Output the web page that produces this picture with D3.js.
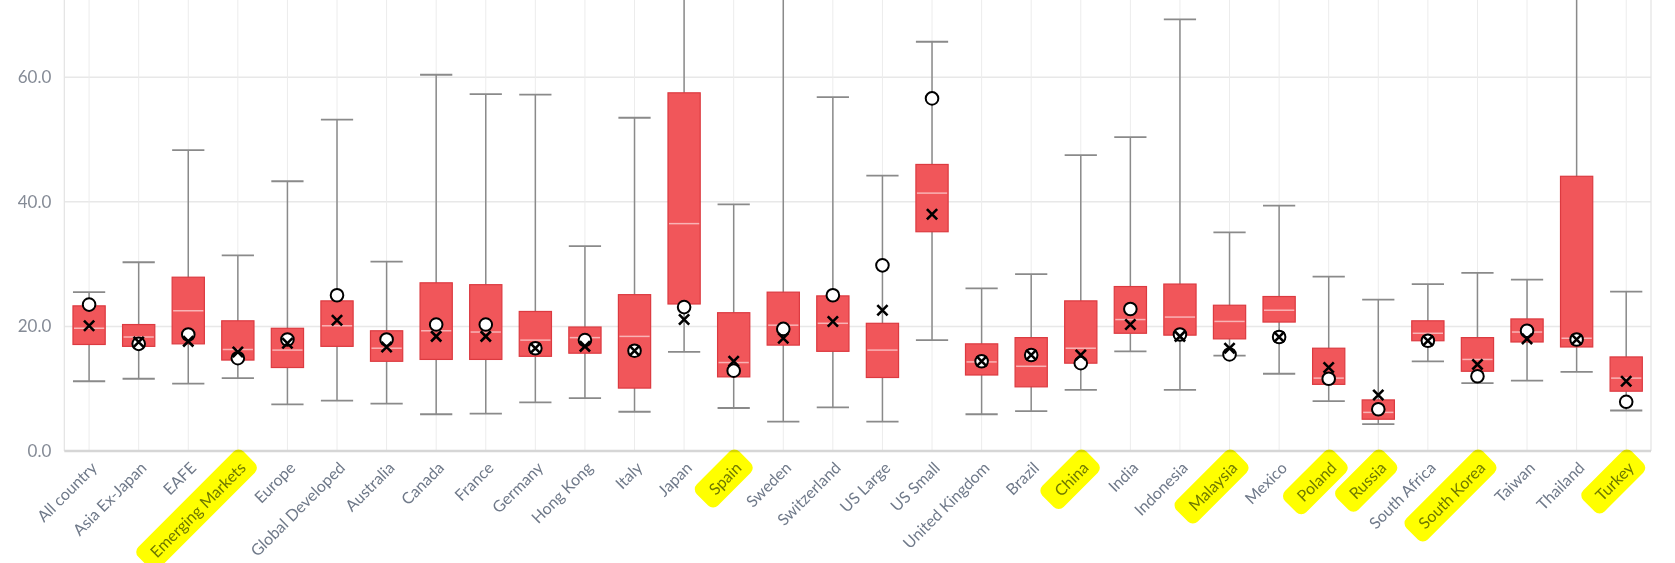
<!DOCTYPE html>
<html>
<head>
<meta charset="utf-8">
<script src="https://cdn.jsdelivr.net/npm/d3@7"></script>
<style>
  body { margin: 0; background: #fff; }
  text { font-family: Lato, "Open Sans", sans-serif; }
</style>
</head>
<body>
<div id="chart"></div>
<script>
// categories and box stats
var categories = ["All country", "Asia Ex-Japan", "EAFE", "Emerging Markets", "Europe", "Global Developed",
  "Australia", "Canada", "France", "Germany", "Hong Kong", "Italy", "Japan", "Spain", "Sweden", "Switzerland",
  "US Large", "US Small", "United Kingdom", "Brazil", "China", "India", "Indonesia", "Malaysia", "Mexico",
  "Poland", "Russia", "South Africa", "South Korea", "Taiwan", "Thailand", "Turkey"];
var highlighted = ["Emerging Markets", "Spain", "China", "Malaysia", "Poland", "Russia", "South Korea", "Turkey"];

var whiskerLow = [11.2, 11.6, 10.8, 11.7, 7.5, 8.1, 7.6, 5.9, 6.0, 7.8, 8.5, 6.3, 15.9, 6.9, 4.7, 7.0,
  4.7, 17.8, 5.9, 6.4, 9.8, 16.0, 9.8, 15.3, 12.4, 8.0, 4.3, 14.4, 10.9, 11.3, 12.7, 6.5];
var q1 = [17.1, 16.8, 17.2, 14.6, 13.4, 16.8, 14.4, 14.7, 14.7, 15.2, 15.7, 10.1, 23.6, 11.9, 17.0, 16.0,
  11.8, 35.2, 12.2, 10.3, 14.1, 18.9, 18.6, 18.0, 20.7, 10.7, 5.1, 17.7, 12.8, 17.5, 16.7, 9.6];
var median = [19.7, 18.3, 22.5, 16.3, 16.2, 20.1, 16.5, 19.3, 19.1, 17.8, 18.2, 18.4, 36.5, 14.2, 20.2, 20.5,
  16.2, 41.4, 14.3, 13.6, 16.5, 21.1, 21.5, 20.8, 22.6, 11.7, 6.2, 18.9, 14.7, 19.1, 18.1, 11.7];
var q3 = [23.3, 20.3, 27.9, 20.9, 19.7, 24.1, 19.3, 27.0, 26.7, 22.4, 19.9, 25.1, 57.5, 22.2, 25.5, 24.9,
  20.5, 46.0, 17.2, 18.2, 24.1, 26.4, 26.8, 23.4, 24.8, 16.5, 8.2, 20.9, 18.2, 21.2, 44.1, 15.1];
var whiskerHigh = [25.5, 30.3, 48.3, 31.4, 43.3, 53.2, 30.4, 60.4, 57.3, 57.2, 32.9, 53.5, 85.0, 39.6, 90.0, 56.8,
  44.2, 65.7, 26.1, 28.4, 47.5, 50.4, 69.3, 35.1, 39.4, 28.0, 24.3, 26.8, 28.6, 27.5, 80.0, 25.6];
var current = [23.5, 17.2, 18.7, 14.9, 17.9, 25.0, 17.9, 20.3, 20.3, 16.5, 17.8, 16.1, 23.1, 12.9, 19.6, 25.0,
  29.8, 56.6, 14.4, 15.4, 14.1, 22.8, 18.7, 15.5, 18.3, 11.6, 6.7, 17.7, 12.0, 19.3, 17.9, 7.9];
var mean = [20.1, 17.5, 17.6, 15.9, 17.3, 21.0, 16.7, 18.4, 18.4, 16.5, 16.8, 16.1, 21.1, 14.4, 18.1, 20.8,
  22.6, 38.0, 14.4, 15.4, 15.4, 20.3, 18.4, 16.5, 18.3, 13.4, 9.0, 17.7, 13.9, 18.0, 17.9, 11.2];
var yTicks = [0, 20, 40, 60];

var svgWidth = 1675, svgHeight = 563;
var margin = {top: 0, left: 64.3, right: 24, bottom: 112};
var chartWidth = svgWidth - margin.left - margin.right;
var chartHeight = svgHeight - margin.top - margin.bottom;

var data = categories.map(function(c, i) {
  return {name: c, lo: whiskerLow[i], q1: q1[i], med: median[i], q3: q3[i], hi: whiskerHigh[i],
    cur: current[i], mean: mean[i]};
});

var svg = d3.select("#chart").append("svg")
  .attr("width", svgWidth)
  .attr("height", svgHeight);

svg.append("defs").append("clipPath").attr("id", "plotClip")
  .append("rect").attr("width", chartWidth).attr("height", chartHeight);

var chartGroup = svg.append("g")
  .attr("transform", `translate(${margin.left}, ${margin.top})`);

var xScale = d3.scaleBand().domain(categories).range([0, chartWidth]).padding(0);
var yScale = d3.scaleLinear().domain([0, 72.4]).range([chartHeight, 0]);
var cx = d => xScale(d) + xScale.bandwidth() / 2;
var boxW = xScale.bandwidth() * 0.65;

// grid
chartGroup.append("g").selectAll("line").data(yTicks.slice(1)).enter().append("line")
  .attr("x1", 0).attr("x2", chartWidth)
  .attr("y1", d => yScale(d)).attr("y2", d => yScale(d))
  .attr("stroke", "#e8e8e8").attr("stroke-width", 1.5);

chartGroup.append("g").selectAll("line").data(categories).enter().append("line")
  .attr("x1", d => cx(d)).attr("x2", d => cx(d))
  .attr("y1", 0).attr("y2", chartHeight)
  .attr("stroke", "#ececec").attr("stroke-width", 1);

[0, chartWidth].forEach(function(x) {
  chartGroup.append("line").attr("x1", x).attr("x2", x).attr("y1", 0).attr("y2", chartHeight)
    .attr("stroke", "#e3e3e3").attr("stroke-width", 1.2);
});

// y axis labels
var yAxis = d3.axisLeft(yScale).tickValues(yTicks).tickFormat(d3.format(".1f")).tickSize(0).tickPadding(13);
chartGroup.append("g").call(yAxis)
  .call(g => g.select(".domain").remove())
  .selectAll("text")
  .attr("fill", "#858b96")
  .style("font-size", "17px");

// boxes
var plot = chartGroup.append("g").attr("clip-path", "url(#plotClip)");
var boxes = plot.selectAll("g.box").data(data).enter().append("g").attr("class", "box");

boxes.append("line")
  .attr("x1", d => cx(d.name)).attr("x2", d => cx(d.name))
  .attr("y1", d => yScale(d.hi)).attr("y2", d => yScale(d.lo))
  .attr("stroke", "#8a8a8a").attr("stroke-width", 1.5);

["hi", "lo"].forEach(function(k) {
  boxes.append("line")
    .attr("x1", d => cx(d.name) - boxW / 2).attr("x2", d => cx(d.name) + boxW / 2)
    .attr("y1", d => yScale(d[k])).attr("y2", d => yScale(d[k]))
    .attr("stroke", "#8a8a8a").attr("stroke-width", 1.8);
});

boxes.append("rect")
  .attr("x", d => cx(d.name) - boxW / 2)
  .attr("width", boxW)
  .attr("y", d => yScale(d.q3))
  .attr("height", d => yScale(d.q1) - yScale(d.q3))
  .attr("fill", "#f1565a")
  .attr("stroke", "#dc3a40")
  .attr("stroke-width", 1.2);

boxes.append("line")
  .attr("x1", d => cx(d.name) - boxW / 2 + 1).attr("x2", d => cx(d.name) + boxW / 2 - 1)
  .attr("y1", d => yScale(d.med)).attr("y2", d => yScale(d.med))
  .attr("stroke", "#f9b3b5").attr("stroke-width", 1.5);

// current value circles
boxes.append("circle")
  .attr("cx", d => cx(d.name)).attr("cy", d => yScale(d.cur))
  .attr("r", 6.3)
  .attr("fill", "#fff").attr("stroke", "#000").attr("stroke-width", 2);

// mean markers (stroke symbol)
boxes.append("path")
  .attr("d", d3.symbol().type(d3.symbolTimes).size(70))
  .attr("transform", d => `translate(${cx(d.name)}, ${yScale(d.mean)})`)
  .attr("fill", "none")
  .attr("stroke", "#000")
  .attr("stroke-width", 2.6);

// baseline
chartGroup.append("line")
  .attr("x1", 0).attr("x2", chartWidth)
  .attr("y1", chartHeight).attr("y2", chartHeight)
  .attr("stroke", "#d6d6d6").attr("stroke-width", 2.5);

// x labels, rotated
var labels = chartGroup.selectAll("g.xlab").data(categories).enter().append("g")
  .attr("class", "xlab")
  .attr("transform", d => `translate(${cx(d) + 5}, ${chartHeight + 14}) rotate(-45)`);

labels.append("text")
  .attr("text-anchor", "end")
  .attr("dy", "0.35em")
  .attr("fill", "#6f7989")
  .style("font-size", "16px")
  .text(d => d);

// yellow highlighter over selected labels
labels.filter(d => highlighted.includes(d)).each(function() {
  var g = d3.select(this);
  var len = g.select("text").node().getComputedTextLength();
  g.append("rect")
    .attr("x", -len - 12).attr("y", -16)
    .attr("width", len + 22).attr("height", 30)
    .attr("rx", 7)
    .attr("fill", "#ffff00")
    .style("mix-blend-mode", "multiply");
});
</script>
</body>
</html>
